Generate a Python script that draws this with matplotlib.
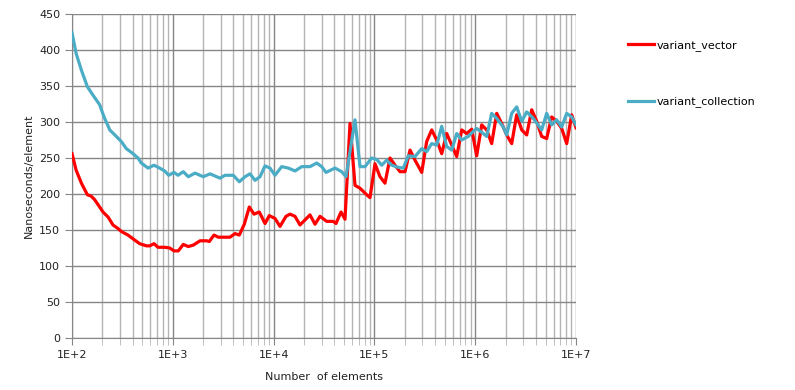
import numpy as np
import matplotlib
matplotlib.use("Agg")
import matplotlib.pyplot as plt
from matplotlib.ticker import LogLocator, FixedLocator, NullFormatter

# values
vector_n = [100, 110, 124, 142, 155, 168, 188, 203, 228, 255, 286, 308, 359, 419,
            469, 546, 590, 651, 713, 831, 932, 1028, 1134, 1271, 1425, 1597, 1862,
            2170, 2302, 2563, 2828, 3694, 4141, 4568, 5121, 5741, 6391, 7214, 8219,
            9065, 10325, 11574, 13274, 14547, 16307, 18280, 22970, 25750, 28865,
            33640, 39110, 41590, 46640, 51090, 57280, 64210, 71970, 83860, 90440,
            101400, 113650, 127400, 142800, 160100, 179500, 201200, 225600, 252800,
            294700, 330300, 370300, 415100, 465300, 521600, 584800, 655500, 734800,
            823700, 923300, 1034900, 1160000, 1300600, 1457800, 1634500, 1832000,
            2053000, 2302000, 2580000, 2893000, 3243000, 3635000, 4075000, 4566000,
            5119000, 5739000, 6434000, 7214000, 8086000, 9065000, 10000000]
vector_ns = [256, 233, 215, 199, 197, 192, 182, 175, 168, 157, 152, 148, 143, 136,
             131, 128, 128, 131, 126, 126, 125, 121, 121, 130, 127, 129, 135,
             135, 134, 143, 140, 140, 145, 143, 158, 182, 172, 175, 159,
             170, 166, 155, 169, 172, 169, 157, 171, 158, 169,
             162, 162, 159, 175, 165, 298, 212, 208, 199, 195,
             242, 224, 215, 250, 240, 231, 231, 261, 247,
             230, 273, 289, 275, 256, 284, 268, 252, 289,
             284, 290, 253, 296, 289, 270, 312, 298,
             282, 270, 310, 289, 282, 317, 301, 280,
             277, 307, 301, 291, 270, 310, 292]

coll_n = [100, 110, 124, 142, 162, 188, 208, 237, 275, 308, 346, 403, 452, 487,
          568, 651, 741, 831, 911, 1028, 1126, 1271, 1425, 1661, 2007, 2339, 2940,
          3296, 3984, 4568, 5203, 5834, 6540, 7333, 8219, 9211, 10325, 12031,
          13990, 16307, 19007, 22970, 26769, 30011, 33112, 40660, 47380, 52300,
          64210, 71970, 80660, 94010, 105390, 118140, 132430, 148470, 172630,
          193500, 216900, 252800, 294700, 330300, 370300, 415100, 465300, 521600,
          584800, 655500, 734800, 854300, 957700, 1034900, 1203500, 1300600,
          1457800, 1634500, 1899700, 2053000, 2302000, 2580000, 2893000, 3243000,
          3770000, 4566000, 5119000, 5739000, 6434000, 7214000, 8086000, 9065000,
          10000000]
coll_ns = [424, 395, 372, 349, 337, 324, 307, 289, 280, 273, 263, 256, 250, 243,
           236, 240, 236, 232, 226, 230, 226, 231, 224, 229, 224, 228, 222,
           226, 226, 217, 224, 228, 219, 224, 239, 236, 226, 238,
           236, 232, 238, 238, 243, 238, 230, 236, 231, 224,
           303, 238, 238, 250, 248, 240, 247, 240, 237,
           236, 253, 252, 263, 259, 270, 268, 294, 266,
           261, 284, 275, 280, 287, 291, 284, 280,
           312, 305, 293, 282, 312, 321, 301, 314,
           305, 289, 312, 296, 303, 293, 312, 307,
           296]

x_labels = ['1E+2', '1E+3', '1E+4', '1E+5', '1E+6', '1E+7']

plt.rcParams['font.family'] = ['DejaVu Sans']

fig = plt.figure(figsize=(7.95, 3.90), dpi=100)
ax = fig.add_axes([72/795, 1-338/390, (576-72)/795, (338-14)/390])

ax.plot(vector_n, vector_ns, color='#ff0000', lw=2.3, label='variant_vector', zorder=3)
ax.plot(coll_n, coll_ns, color='#4bacc6', lw=2.3, label='variant_collection', zorder=3)

ax.set_xscale('log')
ax.set_xlim(1e2, 1e7)
ax.set_ylim(0, 450)
ax.set_yticks(np.arange(0, 451, 50))
ax.xaxis.set_major_locator(FixedLocator([1e2, 1e3, 1e4, 1e5, 1e6, 1e7]))
ax.xaxis.set_minor_locator(LogLocator(base=10, subs=np.arange(2, 10)))
ax.xaxis.set_minor_formatter(NullFormatter())
ax.set_xticklabels(x_labels)

ax.grid(which='major', axis='both', color='#868686', lw=1.0, zorder=0)
ax.grid(which='minor', axis='x', color='#b4b4b4', lw=1.0, zorder=0)

for s in ['top', 'right']:
    ax.spines[s].set_visible(False)
for s in ['left', 'bottom']:
    ax.spines[s].set_color('#868686')

ax.tick_params(axis='both', which='major', length=5, color='#868686',
               labelsize=8, labelcolor='#222222')
ax.tick_params(axis='x', which='minor', length=5, color='#b4b4b4')
ax.tick_params(axis='x', which='major', pad=4)

ax.set_xlabel('Number  of elements', fontsize=8, color='#222222', labelpad=8)
ax.set_ylabel('Nanoseconds/element', fontsize=8, color='#222222', labelpad=4)

ax.legend(loc='upper left', bbox_to_anchor=(618/795, 1-30/390),
          bbox_transform=fig.transFigure, frameon=False, fontsize=8,
          handlelength=2.3, handletextpad=0.3, labelspacing=4.1)

fig.savefig('out.png', dpi=100)
